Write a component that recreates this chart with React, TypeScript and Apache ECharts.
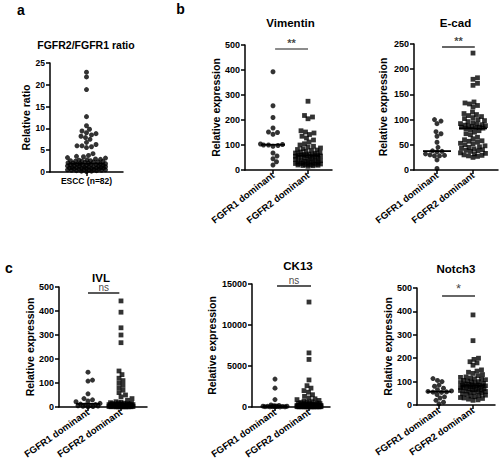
import React, { useEffect, useRef } from "react";
import * as echarts from "echarts";

const FONT = "'Liberation Sans', Arial, Helvetica, sans-serif";

const GROUP_LABELS = ["FGFR1 dominant", "FGFR2 dominant"];
const RATIO_LABELS = ["ESCC (n=82)"];

// Panel a: FGFR2/FGFR1 ratio (n = 82)
const ratioValues = [
  22.9, 21.8, 18.9, 12.7, 10.6, 9.8, 9.4, 9.0, 8.8, 8.5,
  8.2, 7.9, 7.5, 6.8, 6.3, 6.0, 6.0, 5.8, 5.6, 4.2,
  3.8, 3.6, 3.5, 3.3, 3.2, 3.0, 2.9, 2.8, 2.7, 2.6,
  2.6, 2.5, 2.5, 2.4, 2.3, 2.3, 2.2, 2.1, 2.0, 2.0,
  1.9, 1.9, 1.8, 1.8, 1.7, 1.7, 1.6, 1.6, 1.5, 1.5,
  1.4, 1.4, 1.3, 1.3, 1.2, 1.2, 1.1, 1.1, 1.0, 1.0,
  1.0, 0.9, 0.9, 0.9, 0.8, 0.8, 0.8, 0.7, 0.7, 0.7,
  0.6, 0.6, 0.5, 0.5, 0.5, 0.4, 0.4, 0.3, 0.3, 0.2,
  0.2, 0.1,
];

// Vimentin
const vimentinF1 = [393, 257, 210, 168, 152, 150, 143, 104, 102, 100, 100, 98, 95, 68, 56, 45, 33, 20];
const vimentinF2 = [
  275, 218, 212, 205, 157, 152, 148, 142, 135, 128, 120, 112, 105, 100, 95, 92,
  88, 85, 82, 80, 78, 75, 72, 70, 68, 66, 64, 62, 61, 60, 60, 59,
  58, 56, 55, 53, 52, 50, 48, 47, 45, 44, 42, 40, 38, 37, 35, 34,
  32, 30, 29, 28, 27, 26, 25, 24, 23, 22, 21, 20, 19, 18, 17, 15,
];

// E-cad
const ecadF1 = [100, 97, 92, 76, 72, 67, 55, 45, 38, 37, 36, 32, 30, 29, 28, 28, 20, 3];
const ecadF2 = [
  232, 183, 180, 172, 168, 135, 133, 131, 128, 125, 115, 112, 110, 108, 106, 104,
  102, 100, 98, 96, 94, 92, 91, 90, 89, 88, 87, 86, 85, 85, 84, 83,
  82, 80, 78, 75, 72, 70, 65, 62, 60, 58, 57, 55, 53, 52, 50, 48,
  46, 45, 43, 42, 40, 39, 38, 37, 34, 33, 32, 30, 29, 28, 27, 25,
];

// IVL
const ivlF1 = [145, 112, 108, 55, 35, 30, 25, 22, 15, 12, 10, 8, 6, 5, 4, 3, 2, 1];
const ivlF2 = [
  442, 395, 330, 300, 268, 150, 135, 120, 110, 100, 90, 80, 70, 60, 50, 42,
  35, 28, 22, 19, 18, 17, 16, 15, 14, 13, 12, 12, 11, 11, 10, 10,
  9, 9, 8, 8, 8, 7, 7, 7, 6, 6, 6, 5, 5, 5, 4, 4,
  4, 3, 3, 3, 2, 2, 2, 2, 1, 1, 1, 1, 1, 0.5, 0.5, 0.5,
];

// CK13
const ck13F1 = [3400, 2300, 900, 250, 180, 150, 120, 100, 90, 80, 70, 60, 50, 40, 30, 20, 10, 5];
const ck13F2 = [
  12800, 6600, 5800, 3300, 2600, 2300, 2000, 1800, 1500, 1300, 1100, 1000, 900, 800, 700, 650,
  600, 550, 500, 480, 450, 420, 400, 380, 350, 320, 300, 280, 260, 240, 220, 200,
  190, 180, 170, 160, 150, 140, 130, 120, 110, 100, 95, 90, 85, 80, 75, 70,
  65, 60, 55, 50, 45, 40, 35, 30, 25, 20, 18, 15, 12, 10, 8, 5,
];

// Notch3
const notch3F1 = [113, 105, 100, 85, 80, 72, 65, 60, 58, 56, 55, 54, 45, 35, 30, 20, 12, 5];
const notch3F2 = [
  385, 275, 200, 195, 185, 180, 170, 150, 145, 140, 135, 130, 125, 120, 118, 115,
  112, 110, 108, 105, 102, 100, 98, 96, 94, 92, 90, 88, 86, 85, 84, 83,
  82, 81, 80, 78, 76, 75, 73, 72, 70, 68, 66, 65, 63, 62, 60, 58,
  56, 55, 53, 50, 48, 45, 42, 40, 38, 35, 32, 30, 28, 25, 22, 20,
];

type Panel = {
  title: string;
  titleX: number;
  titleY: number;
  titleSize: number;
  groups: number[][];
  labels: string[];
  yName: string;
  left: number;
  top: number;
  width: number;
  height: number;
  c0: number; // pixel of first category
  sp: number; // pixels between categories
  yMax: number;
  yInterval: number;
  nameGap: number;
  rotate: number;
  tickFont: number;
  catFont: number;
  maxHalf: number;
  medHalf: number;
  sig?: { text: string; y: number; x0: number; x1: number; color: string; size: number; weight: string };
};

const panels: Panel[] = [
  {
    title: "FGFR2/FGFR1 ratio", titleX: 86, titleY: 45, titleSize: 10.5,
    groups: [ratioValues], labels: RATIO_LABELS, yName: "Relative ratio",
    left: 50, top: 63, width: 73, height: 109, c0: 86.5, sp: 36,
    yMax: 25, yInterval: 5, nameGap: 17, rotate: 0, tickFont: 8.5, catFont: 8.5, maxHalf: 19, medHalf: 18,
  },
  {
    title: "Vimentin", titleX: 290.5, titleY: 23, titleSize: 11.5,
    groups: [vimentinF1, vimentinF2], labels: GROUP_LABELS, yName: "Relative expression",
    left: 245, top: 45, width: 87, height: 125, c0: 273, sp: 35,
    yMax: 500, yInterval: 100, nameGap: 21, rotate: 38, tickFont: 9, catFont: 9.5, maxHalf: 12.5, medHalf: 12,
    sig: { text: "**", y: 484, x0: 0.06, x1: 1.0, color: "#666", size: 11, weight: "bold" },
  },
  {
    title: "E-cad", titleX: 455.5, titleY: 23, titleSize: 11.5,
    groups: [ecadF1, ecadF2], labels: GROUP_LABELS, yName: "Relative expression",
    left: 414, top: 44, width: 84, height: 126, c0: 437, sp: 36,
    yMax: 250, yInterval: 50, nameGap: 26, rotate: 38, tickFont: 9, catFont: 9.5, maxHalf: 12.5, medHalf: 14,
    sig: { text: "**", y: 244, x0: 0.14, x1: 1.05, color: "#333", size: 11, weight: "bold" },
  },
  {
    title: "IVL", titleX: 101, titleY: 277.5, titleSize: 11.5,
    groups: [ivlF1, ivlF2], labels: GROUP_LABELS, yName: "Relative expression",
    left: 59, top: 287, width: 88, height: 120, c0: 88, sp: 33,
    yMax: 500, yInterval: 100, nameGap: 20, rotate: 35, tickFont: 9, catFont: 9.5, maxHalf: 12, medHalf: 12,
    sig: { text: "ns", y: 475, x0: 0, x1: 0.95, color: "#222", size: 10, weight: "normal" },
  },
  {
    title: "CK13", titleX: 298, titleY: 266, titleSize: 11.5,
    groups: [ck13F1, ck13F2], labels: GROUP_LABELS, yName: "Relative expression",
    left: 252, top: 284, width: 78, height: 123, c0: 275, sp: 34,
    yMax: 15000, yInterval: 5000, nameGap: 35, rotate: 35, tickFont: 9, catFont: 9.5, maxHalf: 12, medHalf: 12,
    sig: { text: "ns", y: 14750, x0: 0.06, x1: 1.06, color: "#222", size: 10, weight: "normal" },
  },
  {
    title: "Notch3", titleX: 456, titleY: 268.5, titleSize: 11.5,
    groups: [notch3F1, notch3F2], labels: GROUP_LABELS, yName: "Relative expression",
    left: 417, top: 288, width: 78, height: 117, c0: 439, sp: 34,
    yMax: 500, yInterval: 100, nameGap: 24, rotate: 35, tickFont: 9, catFont: 9.5, maxHalf: 12.5, medHalf: 12,
    sig: { text: "*", y: 466, x0: 0.09, x1: 1.06, color: "#333", size: 13, weight: "normal" },
  },
];

function median(arr: number[]): number {
  const s = [...arr].sort((a, b) => a - b);
  const n = s.length;
  return n % 2 ? s[(n - 1) / 2] : (s[n / 2 - 1] + s[n / 2]) / 2;
}

// Beeswarm layout: horizontal pixel offsets so dots do not overlap (capped width)
function swarm(values: number[], pxPerUnit: number, d: number, maxHalf: number): number[] {
  const order = values.map((_, i) => i).sort((a, b) => values[a] - values[b]);
  const placed: { x: number; y: number }[] = [];
  const out = new Array(values.length).fill(0);
  const cands: number[] = [0];
  for (let s = 0.5; s <= maxHalf + 1e-9; s += 0.5) cands.push(s, -s);
  for (const i of order) {
    const y = values[i] * pxPerUnit;
    let best = 0;
    let bestScore = -1;
    let chosen: number | null = null;
    for (const c of cands) {
      let md = Infinity;
      for (const p of placed) {
        const dy = p.y - y;
        if (Math.abs(dy) >= d) continue;
        const dist = Math.hypot(p.x - c, dy);
        if (dist < md) md = dist;
      }
      if (md >= d) {
        chosen = c;
        break;
      }
      if (md > bestScore + 1e-6) {
        bestScore = md;
        best = c;
      }
    }
    const x = chosen !== null ? chosen : best;
    placed.push({ x, y });
    out[i] = x;
  }
  return out;
}

function buildOption() {
  const grid: any[] = [];
  const xAxis: any[] = [];
  const yAxis: any[] = [];
  const series: any[] = [];
  const graphic: any[] = [];
  const axisLineStyle = { color: "#000", width: 1.5 };

  panels.forEach((p, i) => {
    const xMin = -(p.c0 - p.left) / p.sp;
    const xMax = xMin + p.width / p.sp;
    const idx = p.labels.map((_, k) => k);
    grid.push({ left: p.left, top: p.top, width: p.width, height: p.height, containLabel: false });
    xAxis.push({
      type: "value",
      gridIndex: i,
      min: xMin,
      max: xMax,
      axisLine: { show: true, onZero: false, lineStyle: axisLineStyle },
      axisTick: { show: true, length: 4, customValues: idx, lineStyle: axisLineStyle },
      axisLabel: {
        customValues: idx,
        formatter: (v: number) => p.labels[Math.round(v)] ?? "",
        rotate: p.rotate,
        fontSize: p.catFont,
        fontWeight: "bold",
        color: "#000",
        fontFamily: FONT,
        margin: 4,
      },
      splitLine: { show: false },
    });
    yAxis.push({
      type: "value",
      gridIndex: i,
      min: 0,
      max: p.yMax,
      interval: p.yInterval,
      axisLine: { show: true, onZero: false, lineStyle: axisLineStyle },
      axisTick: { show: true, length: 4, lineStyle: axisLineStyle },
      axisLabel: {
        fontSize: p.tickFont,
        fontWeight: "bold",
        color: "#000",
        fontFamily: FONT,
        margin: 5,
        formatter: (v: number) => String(v),
      },
      splitLine: { show: false },
      name: p.yName,
      nameLocation: "middle",
      nameGap: p.nameGap,
      nameTextStyle: { fontSize: 10.5, fontWeight: "bold", color: "#000", fontFamily: FONT },
    });

    const pxPerY = p.height / p.yMax;
    p.groups.forEach((vals, g) => {
      const isSquare = p.groups.length > 1 && g === 1;
      const size = isSquare ? 4.8 : 5;
      const offs = swarm(vals, pxPerY, 4.6, p.maxHalf);
      series.push({
        type: "scatter",
        xAxisIndex: i,
        yAxisIndex: i,
        symbol: isSquare ? "rect" : "circle",
        symbolSize: size,
        itemStyle: { color: "#000" },
        silent: true,
        clip: false,
        z: 2,
        data: vals.map((v, k) => [g + offs[k] / p.sp, v]),
      });
      const m = median(vals);
      const h = p.medHalf / p.sp;
      series.push({
        type: "line",
        xAxisIndex: i,
        yAxisIndex: i,
        symbol: "none",
        silent: true,
        z: 3,
        lineStyle: { color: "#000", width: 1.8 },
        data: [
          [g - h, m],
          [g + h, m],
        ],
      });
    });

    if (p.sig) {
      series.push({
        type: "line",
        xAxisIndex: i,
        yAxisIndex: i,
        symbol: "none",
        silent: true,
        clip: false,
        lineStyle: { color: p.sig.color, width: 1.5 },
        data: [
          [p.sig.x0, p.sig.y],
          [p.sig.x1, p.sig.y],
        ],
      });
      series.push({
        type: "scatter",
        xAxisIndex: i,
        yAxisIndex: i,
        symbolSize: 1,
        silent: true,
        clip: false,
        itemStyle: { color: "rgba(0,0,0,0)" },
        label: {
          show: true,
          position: "top",
          distance: 0,
          formatter: p.sig.text,
          fontSize: p.sig.size,
          fontWeight: p.sig.weight,
          color: "#111",
          fontFamily: FONT,
        },
        data: [[(p.sig.x0 + p.sig.x1) / 2, p.sig.y]],
      });
    }

    graphic.push({
      type: "text",
      x: p.titleX,
      y: p.titleY,
      style: {
        text: p.title,
        fill: "#000",
        font: `bold ${p.titleSize}px ${FONT}`,
        textAlign: "center",
        textVerticalAlign: "middle",
      },
    });
  });

  const letters = [
    { t: "a", x: 21, y: 10 },
    { t: "b", x: 180.5, y: 9 },
    { t: "c", x: 9, y: 268 },
  ];
  letters.forEach((l) =>
    graphic.push({
      type: "text",
      x: l.x,
      y: l.y,
      style: {
        text: l.t,
        fill: "#000",
        font: `bold 14px ${FONT}`,
        textAlign: "center",
        textVerticalAlign: "middle",
      },
    })
  );

  return {
    animation: false,
    backgroundColor: "#fff",
    grid,
    xAxis,
    yAxis,
    series,
    graphic,
  };
}

export default function App() {
  const ref = useRef<HTMLDivElement>(null);
  useEffect(() => {
    if (!ref.current) return;
    const chart = echarts.init(ref.current, undefined, { renderer: "svg" });
    chart.setOption(buildOption() as any);
    return () => chart.dispose();
  }, []);
  return (
    <div
      ref={ref}
      style={{ position: "fixed", left: 0, top: 0, width: 500, height: 463, background: "#fff" }}
    />
  );
}
